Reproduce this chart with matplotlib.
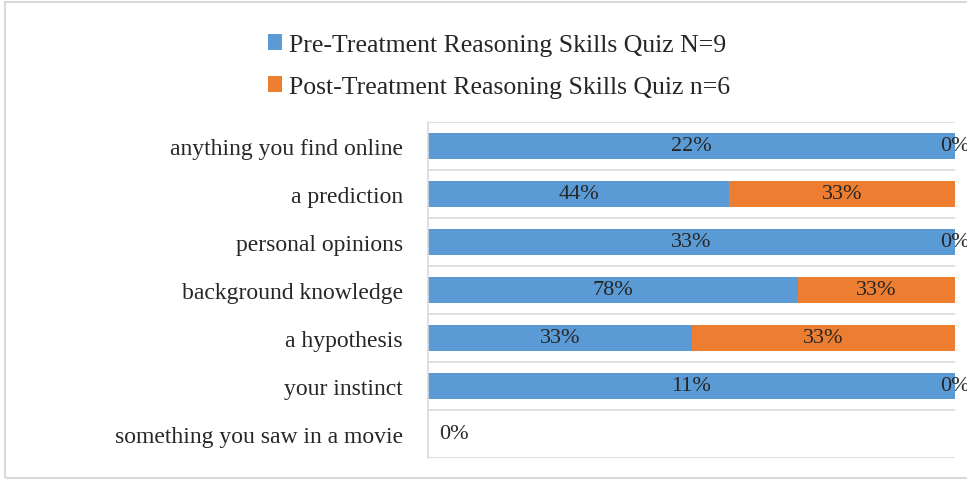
import numpy as np
import matplotlib
matplotlib.use("Agg")
from matplotlib import pyplot as plt
from matplotlib.patches import Rectangle

# Chart data (percent values as shown on the bars)
categories = ["anything you find online", "a prediction", "personal opinions",
              "background knowledge", "a hypothesis", "your instinct",
              "something you saw in a movie"]
pre_values = [22, 44, 33, 78, 33, 11, 0]
post_values = [0, 33, 0, 33, 33, 0, 0]
series_names = ["Pre-Treatment Reasoning Skills Quiz N=9",
                "Post-Treatment Reasoning Skills Quiz n=6"]
colors = ["#5B9BD5", "#ED7D31"]

plt.rcParams['font.family'] = ['Liberation Serif', 'DejaVu Serif']

pre = np.array(pre_values, dtype=float)
post = np.array(post_values, dtype=float)
total = pre + post
# 100% stacked: normalise each row, rows with no data stay empty
safe_total = np.where(total > 0, total, 1)
pre_frac = pre / safe_total
post_frac = post / safe_total

fig = plt.figure(figsize=(9.67, 4.81), dpi=100)
ax = fig.add_axes([428 / 967, 1 - 459 / 481, 527 / 967, 336 / 481])

y = np.arange(len(categories))
bar_h = 0.55
b1 = ax.barh(y, pre_frac, height=bar_h, color=colors[0], label=series_names[0], zorder=2)
b2 = ax.barh(y, post_frac, left=pre_frac, height=bar_h, color=colors[1], label=series_names[1], zorder=2)

ax.set_xlim(0, 1)
ax.set_ylim(len(categories) - 0.5, -0.5)
ax.set_yticks(y)
ax.set_yticklabels(categories, fontsize=17, color="#262626")
ax.tick_params(axis='y', length=0, pad=18)
ax.set_xticks([])

# gridlines between categories
for b in np.arange(-0.5, len(categories), 1.0):
    ax.axhline(b, color="#D9D9D9", lw=1.2, zorder=1)

for side in ['top', 'right', 'bottom']:
    ax.spines[side].set_visible(False)
ax.spines['left'].set_color("#D9D9D9")
ax.spines['left'].set_linewidth(1.2)

# data labels
lbl_size = 16
for i in range(len(categories)):
    if total[i] == 0:
        ax.text(0.022, i, f"{int(pre[i])}%", ha='left', va='center', fontsize=lbl_size, color="#262626")
        continue
    ax.text(pre_frac[i] / 2, i, f"{int(pre[i])}%", ha='center', va='center', fontsize=lbl_size, color="#262626")
    ax.text(pre_frac[i] + post_frac[i] / 2, i, f"{int(post[i])}%", ha='center', va='center',
            fontsize=lbl_size, color="#262626", clip_on=False)

fig.legend(handles=[b1, b2], labels=series_names, loc='upper left',
           bbox_to_anchor=(245 / 967, 1 - 12 / 481), frameon=False, fontsize=18.5,
           handlelength=0.55, handleheight=0.6, handletextpad=0.25, labelspacing=0.75,
           labelcolor="#262626")

# outer chart border
fig.add_artist(Rectangle((5 / 967, 2 / 481), 1.2, 1 - 5 / 481, transform=fig.transFigure,
                         fill=False, edgecolor="#D9D9D9", lw=1.5))

fig.savefig("out.png", dpi=100)
